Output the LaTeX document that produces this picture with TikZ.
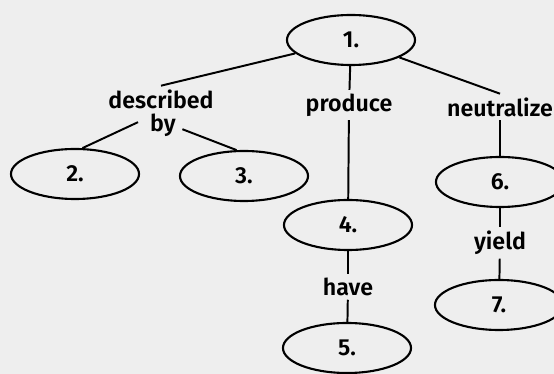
\documentclass[tikz,border=0pt]{standalone}
\usepackage{fontspec}
\setsansfont{Fira Sans}[UprightFont={* SemiBold}]
\usepackage{tikz}
\usetikzlibrary{shapes.geometric}
\definecolor{paper}{HTML}{EEEEEE}

\begin{document}
\begin{tikzpicture}[x=0.025cm, y=0.025cm,
  oval/.style={ellipse, draw, line width=1.5pt, minimum width=3.2cm,
    minimum height=1.25cm, inner sep=0pt, font=\sffamily\fontsize{16.5}{19}\selectfont},
  verb/.style={font=\sffamily\fontsize{16.5}{19}\selectfont, inner sep=2.5pt},
  link/.style={line width=1.4pt}]
\fill[paper] (0,0) rectangle (554,374);
\useasboundingbox (0,0) rectangle (554,374);
% concept ovals
\node[oval] (n1) at (351,334) {1.};
\node[oval] (n2) at (75,200) {2.};
\node[oval] (n3) at (244,198) {3.};
\node[oval] (n4) at (348,149) {4.};
\node[oval] (n5) at (347,26) {5.};
\node[oval] (n6) at (500,192) {6.};
\node[oval] (n7) at (499,69) {7.};
% linking words
\node[verb] (desc) at (161,275) {described};
\node[verb] (by) at (163,249) {by};
\node[verb] (prod) at (349,269) {produce};
\node[verb] (neut) at (500,267) {neutralize};
\node[verb] (have) at (348,87) {have};
\node[verb] (yield) at (500,131) {yield};
% links
\draw[link] (n1) -- (desc.north);
\draw[link] ([xshift=-6pt,yshift=2pt]by.west) -- (n2.74);
\draw[link] ([xshift=2pt,yshift=-3pt]by.east) -- (n3.106);
\draw[link] (n1) -- (prod);
\draw[link] (prod) -- (n4);
\draw[link] (n4) -- (have);
\draw[link] (have) -- (n5);
\draw[link] (n1) -- (neut.north);
\draw[link] (neut) -- (n6);
\draw[link] (n6) -- (yield);
\draw[link] (yield) -- (n7);
\end{tikzpicture}
\end{document}
